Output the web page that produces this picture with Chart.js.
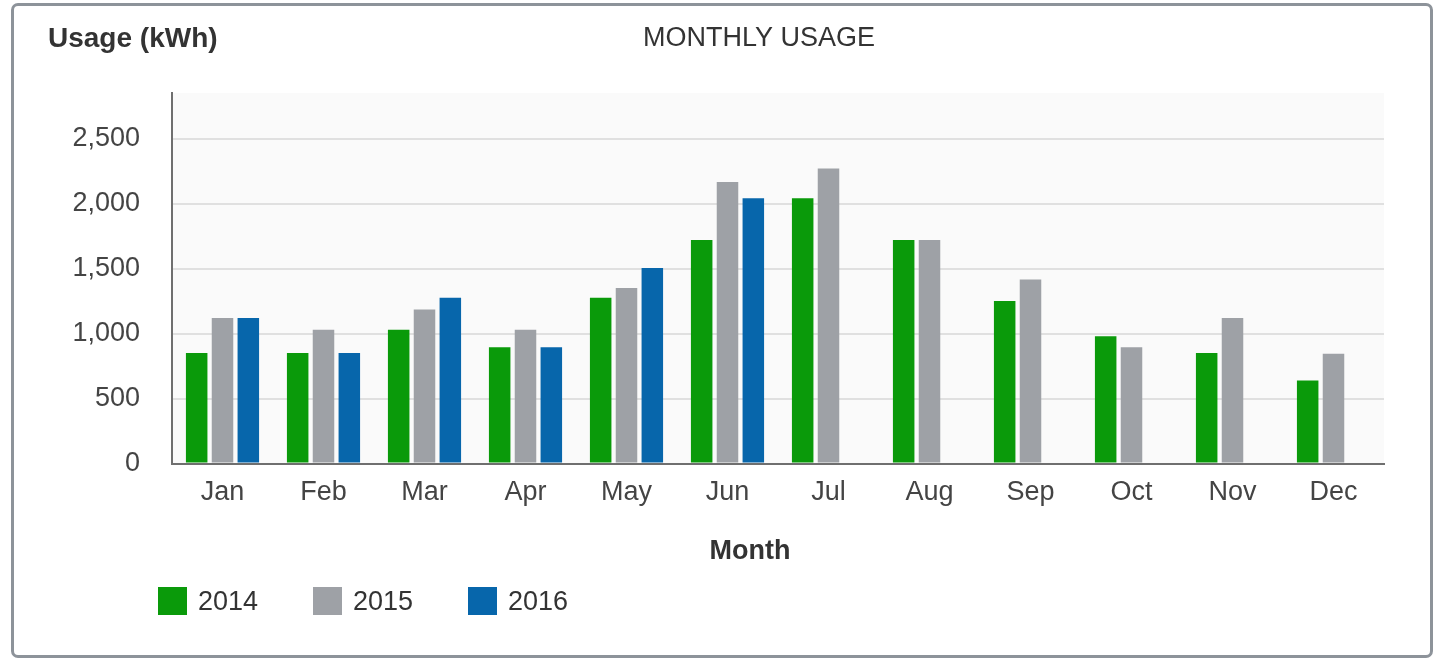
<!DOCTYPE html>
<html>
<head>
<meta charset="utf-8">
<title>Monthly Usage</title>
<script src="https://cdn.jsdelivr.net/npm/chart.js@4.4.1/dist/chart.umd.min.js"></script>
<style>
  html, body { margin: 0; padding: 0; background: #fff; }
  #wrap { position: relative; width: 1435px; height: 659px; overflow: hidden; }
  #frame {
    position: absolute; left: 11px; top: 3px; width: 1416px; height: 649px;
    border: 3px solid #8d939a; border-radius: 7px; box-sizing: content-box;
  }
  #usageChart { position: absolute; left: 0; top: 0; }
  #legend {
    position: absolute; left: 158px; top: 587px; display: flex;
    font: 27px "Liberation Sans", Arial, sans-serif; color: #333;
  }
  .item { display: flex; align-items: center; width: 155px; height: 28px; }
  .swatch { width: 29px; height: 28px; margin-right: 11px; }
</style>
</head>
<body>
<div id="wrap">
  <div id="frame"></div>
  <canvas id="usageChart" width="1435" height="659"></canvas>
  <div id="legend"></div>
</div>
<script>
// datos del gráfico
const months = ["Jan", "Feb", "Mar", "Apr", "May", "Jun", "Jul", "Aug", "Sep", "Oct", "Nov", "Dec"];
const years = ["2014", "2015", "2016"];
const usage2014 = [850, 850, 1030, 895, 1275, 1720, 2040, 1720, 1250, 980, 850, 640];
const usage2015 = [1120, 1030, 1185, 1030, 1350, 2165, 2270, 1720, 1415, 895, 1120, 845];
const usage2016 = [1120, 850, 1275, 895, 1505, 2040, null, null, null, null, null, null];
const yTicks = [0, 500, 1000, 1500, 2000, 2500];
const yearColors = ["#0a9a0a", "#9ea1a6", "#0766ab"];

const FONT = '"Liberation Sans", Arial, sans-serif';

// fondo del área de trazado + textos de cabecera y título del eje X
const chromePlugin = {
  id: "chrome",
  beforeDraw(chart) {
    const { ctx, chartArea: a } = chart;
    ctx.save();
    ctx.fillStyle = "#fafafa";
    ctx.fillRect(a.left, a.top, a.right - a.left, a.bottom - a.top);
    ctx.restore();
  },
  afterDraw(chart) {
    const { ctx } = chart;
    ctx.save();
    ctx.fillStyle = "#333";
    ctx.textBaseline = "middle";
    ctx.font = "bold 28px " + FONT;
    ctx.textAlign = "left";
    ctx.fillText("Usage (kWh)", 48, 39);
    ctx.font = "27px " + FONT;
    ctx.textAlign = "center";
    ctx.fillText("MONTHLY USAGE", 759, 39);
    ctx.font = "bold 27px " + FONT;
    ctx.fillText("Month", 750, 552);
    ctx.restore();
  }
};

const series = [usage2014, usage2015, usage2016];

new Chart(document.getElementById("usageChart"), {
  type: "bar",
  data: {
    labels: months,
    datasets: years.map((y, i) => ({
      label: y,
      data: series[i],
      backgroundColor: yearColors[i],
      categoryPercentage: 0.767,
      barPercentage: 0.833
    }))
  },
  options: {
    responsive: false,
    animation: false,
    layout: { padding: { top: 93, left: 62, right: 51, bottom: 137 } },
    plugins: {
      legend: { display: false },
      tooltip: { enabled: false }
    },
    scales: {
      x: {
        grid: { display: false, drawTicks: false },
        border: { display: true, color: "#6f6f6f", width: 2 },
        ticks: { color: "#444", font: { family: FONT, size: 27 }, padding: 13 }
      },
      y: {
        min: 0,
        max: 2850,
        afterFit(scale) { scale.width = 110; },
        afterBuildTicks(scale) { scale.ticks = yTicks.map(v => ({ value: v })); },
        grid: { color: "#e0e0e0", lineWidth: 2, drawTicks: false },
        border: { display: true, color: "#6f6f6f", width: 2 },
        ticks: {
          padding: 32,
          color: "#444",
          font: { family: FONT, size: 27 },
          callback: v => v.toLocaleString("en-US")
        }
      }
    }
  },
  plugins: [chromePlugin]
});

// leyenda
const legend = document.getElementById("legend");
years.forEach((y, i) => {
  const item = document.createElement("div");
  item.className = "item";
  const sw = document.createElement("span");
  sw.className = "swatch";
  sw.style.background = yearColors[i];
  const txt = document.createElement("span");
  txt.textContent = y;
  item.appendChild(sw);
  item.appendChild(txt);
  legend.appendChild(item);
});
</script>
</body>
</html>
